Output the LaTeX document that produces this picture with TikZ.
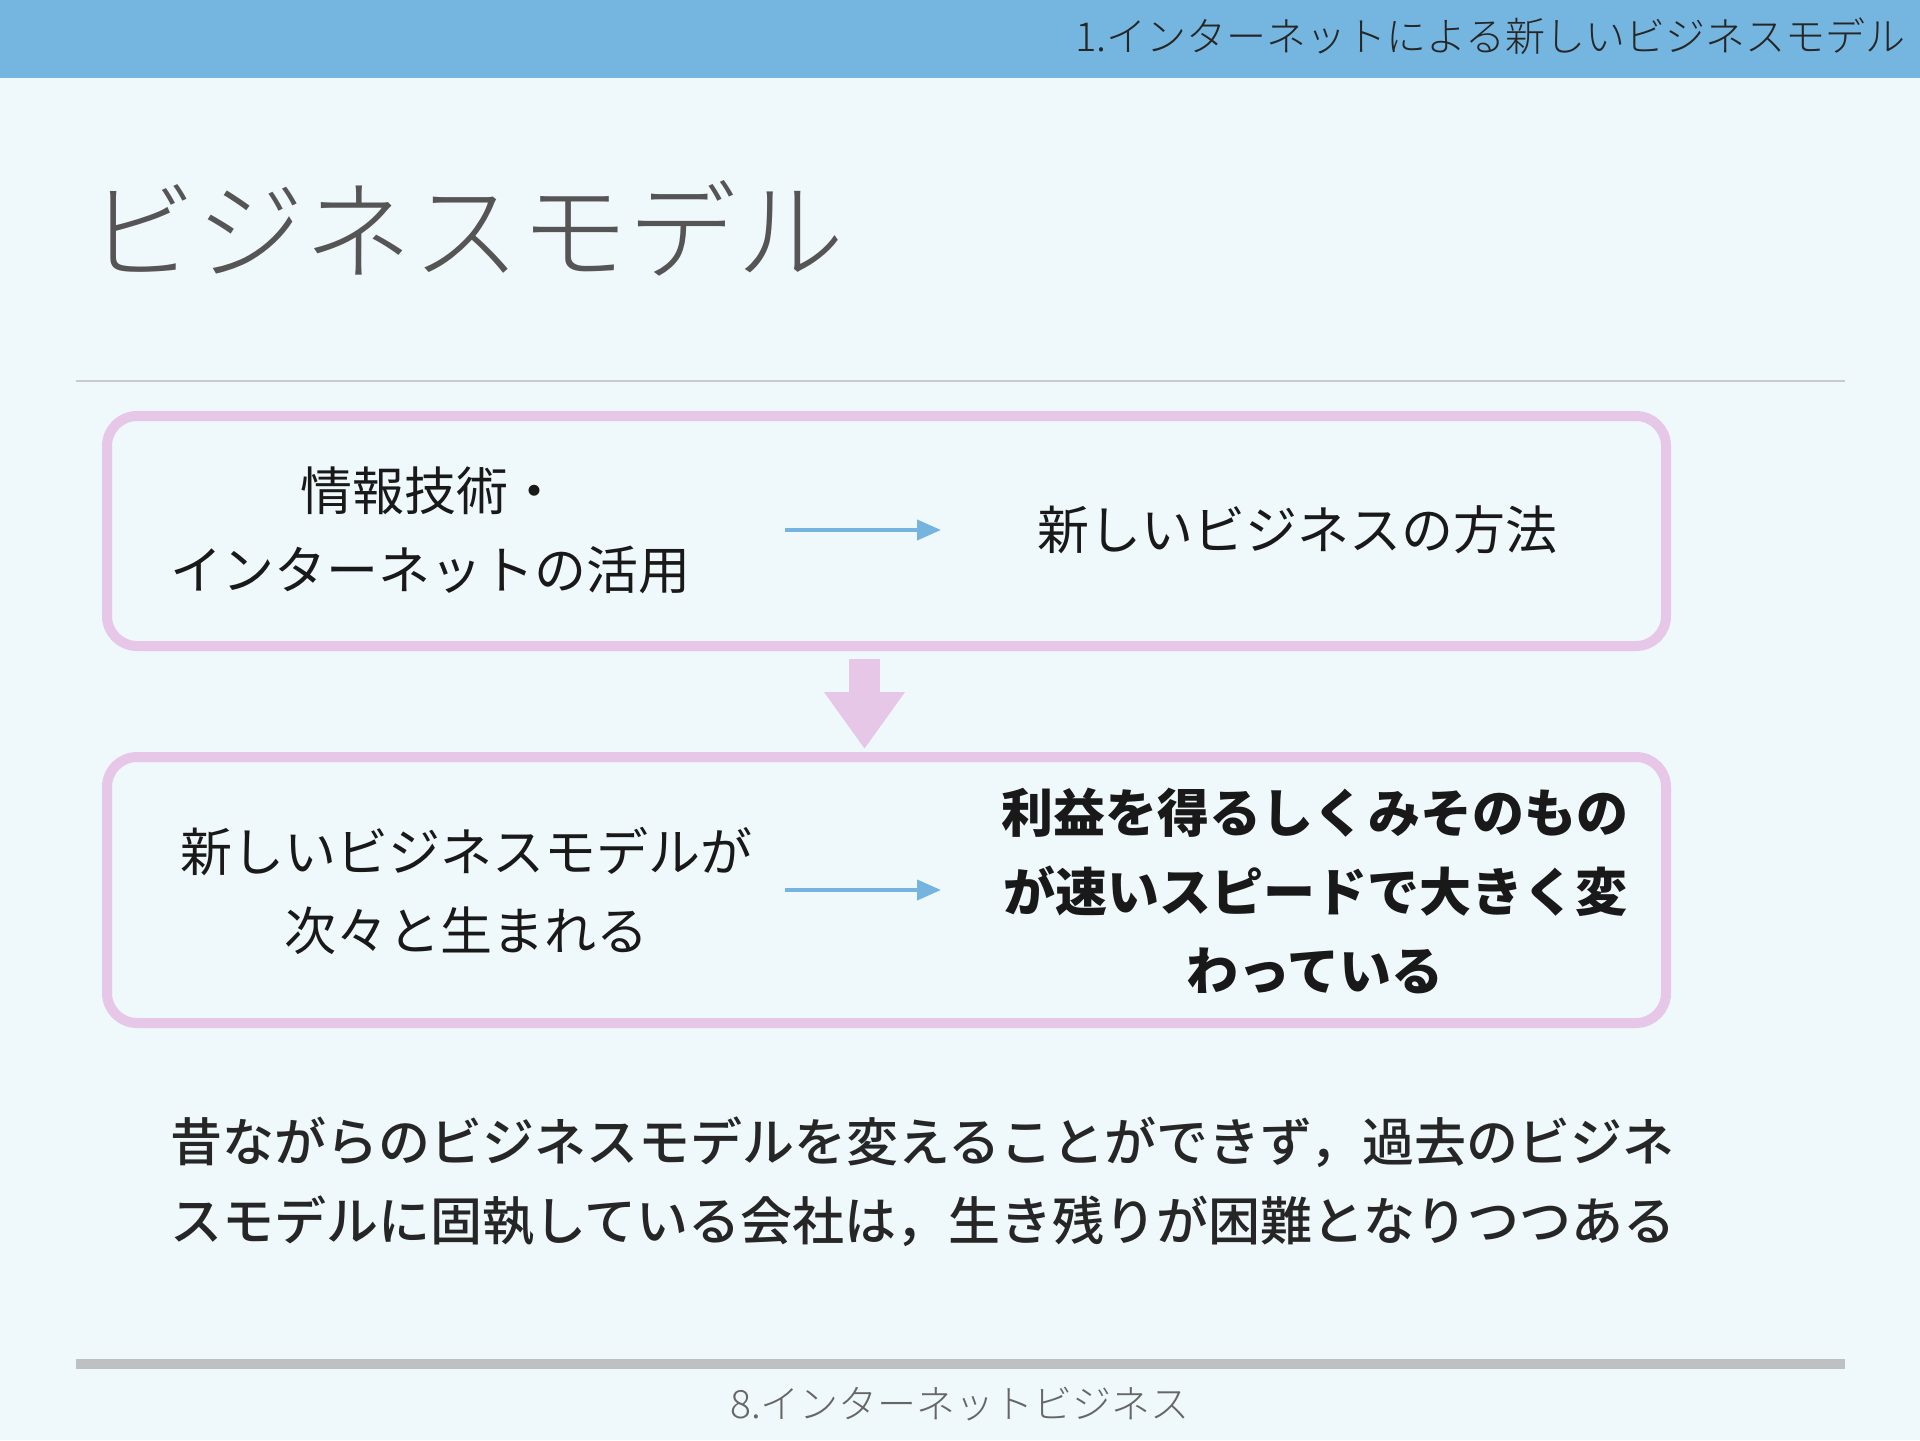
\documentclass[tikz,border=0pt]{standalone}
\usepackage{fontspec}
\setmainfont{Noto Sans CJK JP}
\newfontfamily\jplight{Noto Sans CJK JP Light}
\newfontfamily\jpmedium{Noto Sans CJK JP Medium}
\usetikzlibrary{arrows.meta}
\definecolor{bgc}{HTML}{EFF8FA}
\definecolor{barc}{HTML}{74B6E0}
\definecolor{titlec}{HTML}{555555}
\definecolor{rulec}{HTML}{C8CACC}
\definecolor{footrule}{HTML}{BDC1C3}
\definecolor{boxc}{HTML}{E6C7E8}
\definecolor{bluearrow}{HTML}{74B4DE}
\definecolor{footc}{HTML}{666666}
\tikzset{
  flowbox/.style={draw=boxc, line width=5pt, rounded corners=15pt, minimum width=779.5pt, inner sep=0pt},
  bodytext/.style={font=\fontsize{26pt}{39.5pt}\selectfont, text=black!90, align=center, inner sep=0pt},
  flowarrow/.style={draw=bluearrow, line width=2pt, -{Triangle[length=12pt,width=10pt]}},
  downarrow/.style={draw=boxc, line width=15.5pt, -{Triangle[length=28.5pt,width=38.5pt]}}
}
\begin{document}
\begin{tikzpicture}[x=0.5pt,y=-0.5pt]
\useasboundingbox (0,0) rectangle (1920,1440);
\fill[bgc] (0,0) rectangle (1920,1440);
\fill[barc] (0,0) rectangle (1920,78);
\node[anchor=east, inner sep=0pt, text=black!85, font=\jplight\fontsize{20pt}{22pt}\selectfont] (hdr) at (1906,36) {1.インターネットによる新しいビジネスモデル};
\node[anchor=west, inner sep=0pt, text=titlec, font=\jplight\fontsize{54pt}{60pt}\selectfont] (title) at (88,228) {ビジネスモデル};
\draw[rulec, line width=0.8pt] (76,381) -- (1845,381);

\node[flowbox, minimum height=115pt] (b1) at (886.5,531) {};
\node[flowbox, minimum height=133pt] (b2) at (886.5,890) {};
\coordinate (ds) at (864.5,649);
\coordinate (de) at (864.5,754);
\draw[downarrow, shorten <=5pt, shorten >=2.5pt] (ds) -- (de);

\node[bodytext] (t1) at (430,530) {情報技術・\\インターネットの活用};
\node[bodytext] (t2) at (1297,530) {新しいビジネスの方法};
\coordinate (a1s) at (785,530);
\coordinate (a1e) at (941,530);
\draw[flowarrow] (a1s) -- (a1e);

\node[bodytext] (t3) at (466,891) {新しいビジネスモデルが\\次々と生まれる};
\node[bodytext, font=\bfseries\fontsize{26pt}{39.5pt}\selectfont] (t4) at (1315,891) {利益を得るしくみそのもの\\が速いスピードで大きく変\\わっている};
\coordinate (a2s) at (785,890);
\coordinate (a2e) at (941,890);
\draw[flowarrow] (a2s) -- (a2e);

\node[bodytext, align=left, anchor=west, text=black!85, font=\jpmedium\fontsize{26pt}{39.5pt}\selectfont] (bottom) at (170,1182) {昔ながらのビジネスモデルを変えることができず，過去のビジネ\\スモデルに固執している会社は，生き残りが困難となりつつある};

\draw[footrule, line width=5pt] (76,1364) -- (1845,1364);
\node[inner sep=0pt, text=footc, font=\jplight\fontsize{19.5pt}{21pt}\selectfont] (foot) at (960,1404) {8.インターネットビジネス};
\end{tikzpicture}
\end{document}
